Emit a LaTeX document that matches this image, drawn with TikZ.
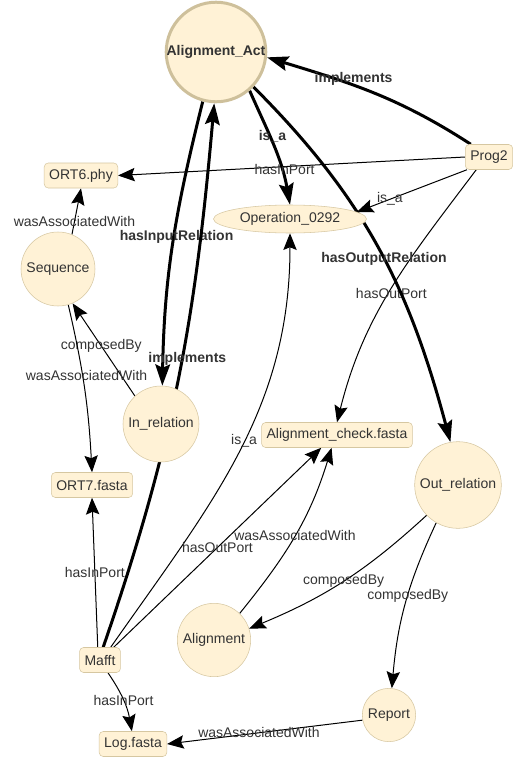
\documentclass[tikz,border=0pt]{standalone}
\usepackage{fontspec}
\setmainfont{Liberation Sans}
\usetikzlibrary{shapes.geometric,arrows.meta,backgrounds}
\definecolor{nodefill}{HTML}{FFF2D6}
\definecolor{nodeline}{HTML}{D6C7A1}
\definecolor{actline}{HTML}{CEC09B}
\definecolor{labeltext}{HTML}{333333}
\begin{document}
\begin{tikzpicture}[x=0.75pt,y=0.75pt,
  font=\fontsize{10.5}{12.6}\selectfont,
  main node/.style={circle,draw=nodeline,fill=nodefill,text=labeltext,inner sep=0pt},
  file node/.style={rectangle,rounded corners=3pt,draw=nodeline,fill=nodefill,text=labeltext,inner xsep=3.75pt,inner ysep=0pt,minimum height=18.75pt},
  link/.style={line width=0.75pt,-{Stealth[length=12.5pt,width=10pt,inset=2pt]}},
  strong link/.style={line width=2.25pt,-{Stealth[length=16pt,width=11pt,inset=2.5pt]}},
  bold label/.style={font=\fontsize{10.5}{12.6}\selectfont\bfseries}]

  \useasboundingbox (0,0) rectangle (518,-782);

  \node[main node,draw=actline,line width=2.25pt,minimum size=74pt,font=\fontsize{10.5}{12.6}\selectfont\bfseries] (act) at (216,-52) {Alignment\_Act};
  \node[file node] (ort6) at (81,-175.5) {ORT6.phy};
  \node[file node] (prog2) at (489,-157) {Prog2};
  \node[ellipse,draw=nodeline,fill=nodefill,text=labeltext,inner sep=0pt,minimum width=114.75pt,minimum height=21pt] (op) at (290,-219) {Operation\_0292};
  \node[main node,minimum size=55.5pt] (seq) at (58,-269) {Sequence};
  \node[main node,minimum size=57pt] (inrel) at (161,-424) {In\_relation};
  \node[file node] (check) at (337,-435) {Alignment\_check.fasta};
  \node[file node] (ort7) at (92,-485) {ORT7.fasta};
  \node[main node,minimum size=65pt] (outrel) at (458,-485) {Out\_relation};
  \node[main node,minimum size=55pt] (align) at (214,-640) {Alignment};
  \node[file node] (mafft) at (100,-660) {Mafft};
  \node[main node,minimum size=40pt] (report) at (389,-715) {Report};
  \node[file node] (log) at (133,-744) {Log.fasta};

  \begin{scope}[on background layer]
  \fill[white] (0,0) rectangle (518,-782);
  \path[every node/.style={text=labeltext}]
    (prog2.145) edge[strong link,out=147,in=-17] node[bold label,pos=0.6,yshift=5pt]{implements} (act.-6)
    (act.-49) edge[strong link,out=-66,in=100] node[bold label,pos=0.4,xshift=2pt]{is\_a} (op.north)
    (prog2.west) edge[link] node[pos=0.52,yshift=-2pt]{hasInPort} (ort6.east)
    (prog2.210) edge[link] node[pos=0.7]{is\_a} (op.6)
    (prog2.-135) edge[link,out=-127,in=76] node[pos=0.52,xshift=2pt]{hasOutPort} (check.north)
    (act.-43) edge[strong link,out=-45,in=105] node[bold label,pos=0.53]{hasOutputRelation} (outrel.100)
    (act.-105) edge[strong link,out=-104,in=89] node[bold label,pos=0.48,xshift=2pt]{hasInputRelation} (inrel.88)
    (mafft.76) edge[strong link,out=71,in=-95] node[bold label,pos=0.54,xshift=4pt]{implements} (act.-92)
    (seq.68) edge[link] node[pos=0.28]{wasAssociatedWith} (ort6.south)
    (inrel.133) edge[link] node[pos=0.54]{composedBy} (seq.-67)
    (seq.-74) edge[link,bend left=5] node[pos=0.42,xshift=3pt]{wasAssociatedWith} (ort7.north)
    (mafft.100) edge[link] node[pos=0.5]{hasInPort} (ort7.south)
    (mafft.50) edge[link,out=55,in=-90] node[pos=0.53]{is\_a} (op.south)
    (mafft.43) edge[link] node[pos=0.5]{hasOutPort} (check.219)
    (align.46) edge[link,out=51,in=-107] node[pos=0.5]{wasAssociatedWith} (check.-113)
    (outrel.224) edge[link,bend left=10] node[pos=0.5]{composedBy} (align.18)
    (outrel.-120) edge[link,bend right=10] node[pos=0.45]{composedBy} (report.84)
    (report.191) edge[link] node[pos=0.53]{wasAssociatedWith} (log.east)
    (mafft.-58) edge[link,bend left=12] node[pos=0.5]{hasInPort} (log.95);
  \end{scope}
\end{tikzpicture}
\end{document}
